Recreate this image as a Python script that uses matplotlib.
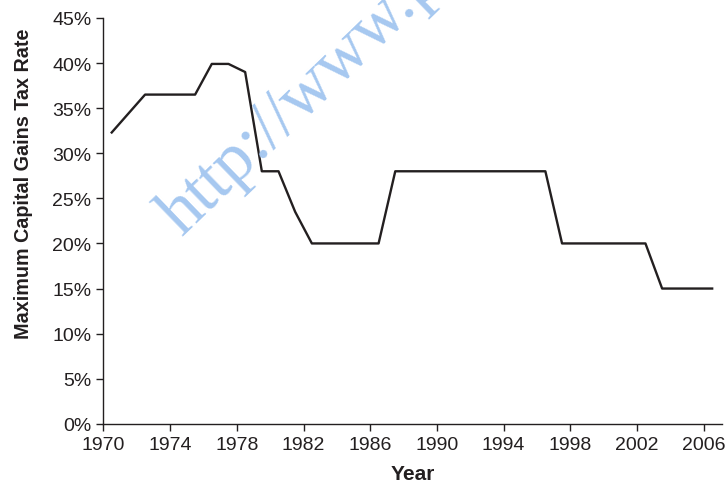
import matplotlib.pyplot as plt
import numpy as np
from matplotlib.ticker import PercentFormatter

YEARS = np.arange(1970, 2007)
RATES = [
    32.3, 34.4, 36.5, 36.5, 36.5, 36.5, 39.9, 39.9, 39.0, 28.0,
    28.0, 23.5, 20.0, 20.0, 20.0, 20.0, 20.0, 28.0, 28.0, 28.0,
    28.0, 28.0, 28.0, 28.0, 28.0, 28.0, 28.0, 20.0, 20.0, 20.0,
    20.0, 20.0, 20.0, 15.0, 15.0, 15.0, 15.0,
]
X_TICKS = np.arange(1970, 2007, 4)
Y_TICKS = np.arange(0, 46, 5)

plt.rcParams['font.family'] = ['Liberation Sans', 'DejaVu Sans']
TEXT = '#231f20'

fig = plt.figure(figsize=(7.28, 4.85), dpi=100)
ax = fig.add_axes([0.142, 0.124, 0.85, 0.837])

# points sit in the middle of each year's slot
ax.plot(YEARS + 0.5, RATES, color=TEXT, lw=1.7, zorder=3)

ax.set_xlim(1970, 2007.1)
ax.set_ylim(0, 45)
ax.set_xticks(X_TICKS)
ax.set_yticks(Y_TICKS)
ax.yaxis.set_major_formatter(PercentFormatter(decimals=0))
ax.tick_params(direction='out', length=5, width=1, color=TEXT,
               labelsize=14, labelcolor=TEXT)

for side in ('top', 'right'):
    ax.spines[side].set_visible(False)
for side in ('left', 'bottom'):
    ax.spines[side].set_color(TEXT)
    ax.spines[side].set_linewidth(1)

ax.set_xlabel('Year', fontsize=15, fontweight='bold', color=TEXT, labelpad=8)
ax.set_ylabel('Maximum Capital Gains Tax Rate', fontsize=14.2,
              fontweight='bold', color=TEXT)
ax.yaxis.set_label_coords(-0.113, 0.593)

# scanned-page watermark
fig.text(0.25, 0.51, 'http://www.p', family='Liberation Serif',
         fontsize=50, color='#a6c8f0', rotation=44,
         rotation_mode='anchor', ha='left', va='baseline', zorder=1)

fig.savefig('out.png', dpi=100)
